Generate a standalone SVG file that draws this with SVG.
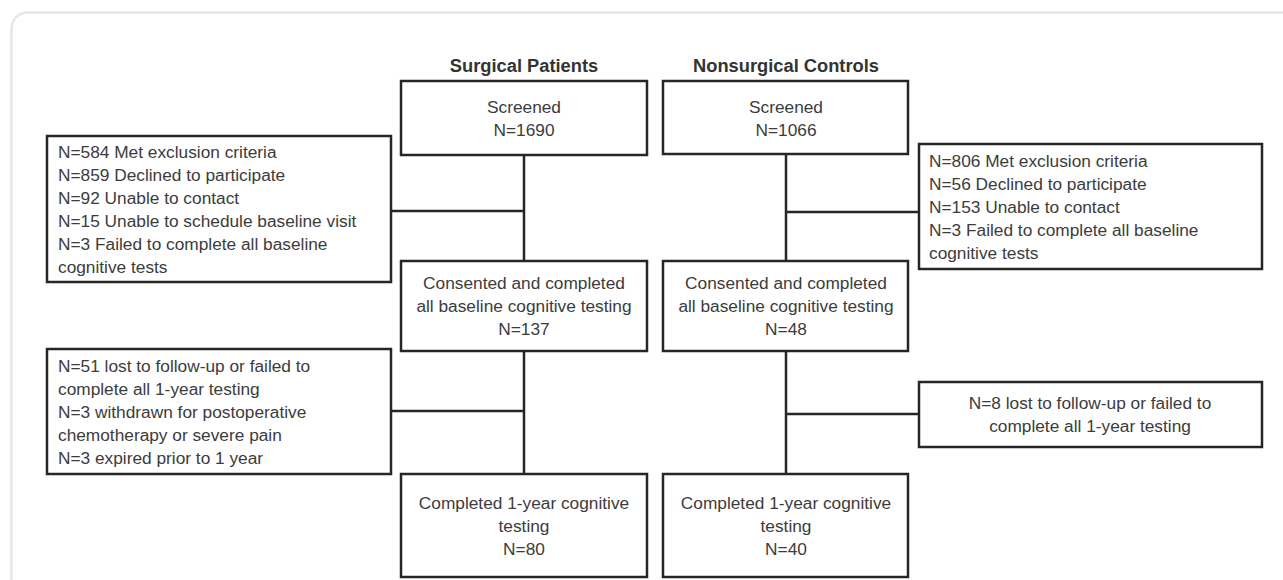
<svg xmlns="http://www.w3.org/2000/svg" width="1283" height="580" viewBox="0 0 1283 580">
<style>
.box{fill:#fff;stroke:#262626;stroke-width:2.5}
.ln{stroke:#262626;stroke-width:2.5;fill:none}
.t{font-family:"Liberation Sans",Arial,sans-serif;font-size:17.3px;fill:#3c3c3c}
.c{text-anchor:middle}
.h{font-family:"Liberation Sans",Arial,sans-serif;font-size:18.3px;font-weight:bold;fill:#333;text-anchor:middle}
</style>
<rect x="0" y="0" width="1283" height="580" fill="#fff"/>
<rect x="11.5" y="12.5" width="1300" height="600" rx="16" fill="#fff" stroke="#e8e6df" stroke-width="2.5"/>
<text class="h" x="524" y="72">Surgical Patients</text>
<text class="h" x="786" y="72">Nonsurgical Controls</text>
<g id="connectors">
<line class="ln" x1="524" y1="155" x2="524" y2="261"/>
<line class="ln" x1="391" y1="211" x2="524" y2="211"/>
<line class="ln" x1="524" y1="351" x2="524" y2="474"/>
<line class="ln" x1="391" y1="411" x2="524" y2="411"/>
<line class="ln" x1="786" y1="154" x2="786" y2="261"/>
<line class="ln" x1="786" y1="212" x2="919" y2="212"/>
<line class="ln" x1="786" y1="351" x2="786" y2="474"/>
<line class="ln" x1="786" y1="414" x2="919" y2="414"/>
</g>
<g id="s-screened">
<rect class="box" x="401" y="81" width="246" height="74"/>
<text class="t c" x="524" y="113">Screened</text>
<text class="t c" x="524" y="136">N=1690</text>
</g>
<g id="n-screened">
<rect class="box" x="663" y="81" width="245" height="73"/>
<text class="t c" x="786" y="113">Screened</text>
<text class="t c" x="786" y="136">N=1066</text>
</g>
<g id="s-excl1">
<rect class="box" x="47" y="136" width="344" height="146"/>
<text class="t" x="58" y="158">N=584 Met exclusion criteria</text>
<text class="t" x="58" y="181">N=859 Declined to participate</text>
<text class="t" x="58" y="204">N=92 Unable to contact</text>
<text class="t" x="58" y="227">N=15 Unable to schedule baseline visit</text>
<text class="t" x="58" y="250">N=3 Failed to complete all baseline</text>
<text class="t" x="58" y="273">cognitive tests</text>
</g>
<g id="n-excl1">
<rect class="box" x="919" y="144" width="343" height="125"/>
<text class="t" x="929" y="167">N=806 Met exclusion criteria</text>
<text class="t" x="929" y="190">N=56 Declined to participate</text>
<text class="t" x="929" y="213">N=153 Unable to contact</text>
<text class="t" x="929" y="236">N=3 Failed to complete all baseline</text>
<text class="t" x="929" y="259">cognitive tests</text>
</g>
<g id="s-baseline">
<rect class="box" x="401" y="261" width="246" height="90"/>
<text class="t c" x="524" y="289">Consented and completed</text>
<text class="t c" x="524" y="312">all baseline cognitive testing</text>
<text class="t c" x="524" y="335">N=137</text>
</g>
<g id="n-baseline">
<rect class="box" x="663" y="261" width="245" height="90"/>
<text class="t c" x="786" y="289">Consented and completed</text>
<text class="t c" x="786" y="312">all baseline cognitive testing</text>
<text class="t c" x="786" y="335">N=48</text>
</g>
<g id="s-excl2">
<rect class="box" x="47" y="349" width="344" height="125"/>
<text class="t" x="58" y="372">N=51 lost to follow-up or failed to</text>
<text class="t" x="58" y="395">complete all 1-year testing</text>
<text class="t" x="58" y="418">N=3 withdrawn for postoperative</text>
<text class="t" x="58" y="441">chemotherapy or severe pain</text>
<text class="t" x="58" y="464">N=3 expired prior to 1 year</text>
</g>
<g id="n-excl2">
<rect class="box" x="919" y="382" width="343" height="65"/>
<text class="t c" x="1090" y="409">N=8 lost to follow-up or failed to</text>
<text class="t c" x="1090" y="432">complete all 1-year testing</text>
</g>
<g id="s-final">
<rect class="box" x="401" y="474" width="246" height="103"/>
<text class="t c" x="524" y="509">Completed 1-year cognitive</text>
<text class="t c" x="524" y="532">testing</text>
<text class="t c" x="524" y="555">N=80</text>
</g>
<g id="n-final">
<rect class="box" x="663" y="474" width="245" height="103"/>
<text class="t c" x="786" y="509">Completed 1-year cognitive</text>
<text class="t c" x="786" y="532">testing</text>
<text class="t c" x="786" y="555">N=40</text>
</g>
</svg>
